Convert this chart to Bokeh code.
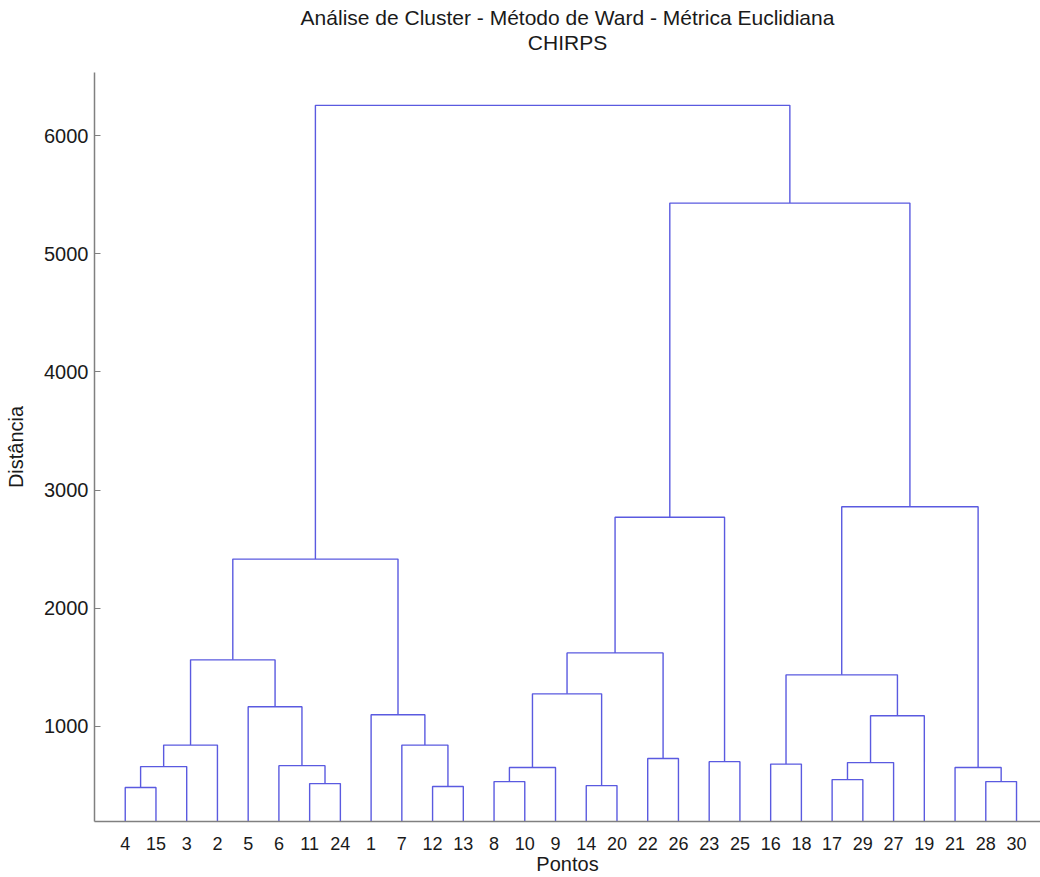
from bokeh.plotting import figure
from bokeh.models import Range1d, FixedTicker, Title
from bokeh.embed import file_html
from bokeh.resources import INLINE

# Leaves in display order
leaf_order = [4, 15, 3, 2, 5, 6, 11, 24, 1, 7, 12, 13, 8, 10, 9, 14, 20,
              22, 26, 23, 25, 16, 18, 17, 29, 27, 19, 21, 28, 30]

# Linkage: node ids 1..30 are leaves, merge k creates node 31+k
merge_left = [4, 14, 12, 11, 8, 28, 17, 35, 21, 31, 6, 16, 37, 23, 22,
              40, 7, 43, 1, 5, 38, 42, 46, 51, 53, 54, 52, 56, 55]
merge_right = [15, 20, 13, 24, 10, 30, 29, 9, 36, 3, 34, 18, 27, 25, 26,
               2, 33, 19, 47, 41, 32, 48, 50, 45, 49, 44, 39, 57, 58]
merge_height = [481, 497, 489, 514, 531, 531, 548, 650, 650, 658, 666, 679,
                692, 700, 726, 840, 840, 1089, 1097, 1165, 1274, 1435, 1562,
                1621, 2415, 2769, 2858, 5430, 6258]

y_ticks = [1000, 2000, 3000, 4000, 5000, 6000]

title_lines = ["Análise de Cluster - Método de Ward - Métrica Euclidiana", "CHIRPS"]

n_leaves = len(leaf_order)
xpos = {leaf: i + 1 for i, leaf in enumerate(leaf_order)}
ypos = {leaf: 0.0 for leaf in leaf_order}

xs, ys = [], []
for k, (a, b, h) in enumerate(zip(merge_left, merge_right, merge_height)):
    node = n_leaves + 1 + k
    xa, xb = xpos[a], xpos[b]
    xs.append([xa, xa, xb, xb])
    ys.append([ypos[a], h, h, ypos[b]])
    xpos[node] = (xa + xb) / 2.0
    ypos[node] = h

FONT = "Liberation Sans"
TXT = "#1a1a1a"

p = figure(width=1040, height=877, output_backend="svg", toolbar_location=None,
           x_range=Range1d(0, 30.78), y_range=Range1d(193, 6536),
           min_border_left=94, min_border_right=0, min_border_top=72,
           min_border_bottom=54, outline_line_color=None,
           background_fill_color="white", border_fill_color="white")

# blank spacer closest to the frame, then the two title lines
p.add_layout(Title(text=" ", align="center", text_font=FONT,
                   text_font_size="16px", standoff=0), "above")
p.add_layout(Title(text=title_lines[1], align="center", text_font=FONT,
                   text_font_size="21px", text_font_style="normal",
                   text_color=TXT, standoff=0), "above")
p.add_layout(Title(text=title_lines[0], align="center", text_font=FONT,
                   text_font_size="21px", text_font_style="normal",
                   text_color=TXT, standoff=0), "above")

p.multi_line(xs, ys, line_color="#5a5ae0", line_width=1.4)

p.grid.visible = False

p.xaxis.ticker = FixedTicker(ticks=list(range(1, n_leaves + 1)))
p.xaxis.major_label_overrides = {i + 1: str(l) for i, l in enumerate(leaf_order)}
p.xaxis.minor_tick_line_color = None
p.xaxis.axis_label = "Pontos"

p.yaxis.ticker = FixedTicker(ticks=y_ticks)
p.yaxis.major_tick_in = 6
p.yaxis.major_tick_out = 0
p.yaxis.minor_tick_line_color = None
p.yaxis.axis_label = "Distância"

for ax in (p.xaxis[0], p.yaxis[0]):
    ax.axis_line_color = "#808080"
    ax.axis_line_width = 1.5
    ax.major_label_text_font = FONT
    ax.major_label_text_color = TXT
    ax.axis_label_text_font = FONT
    ax.axis_label_text_font_size = "20px"
    ax.axis_label_text_font_style = "normal"
    ax.axis_label_text_color = TXT

p.xaxis.major_tick_line_color = None
p.yaxis.major_tick_line_color = "#808080"
p.xaxis.major_label_text_font_size = "18px"
p.yaxis.major_label_text_font_size = "20px"

p.xaxis.major_label_standoff = 9
p.xaxis.axis_label_standoff = 0
p.yaxis.major_label_standoff = 6
p.yaxis.axis_label_standoff = 14

open("out.html", "w").write(file_html(p, INLINE))
